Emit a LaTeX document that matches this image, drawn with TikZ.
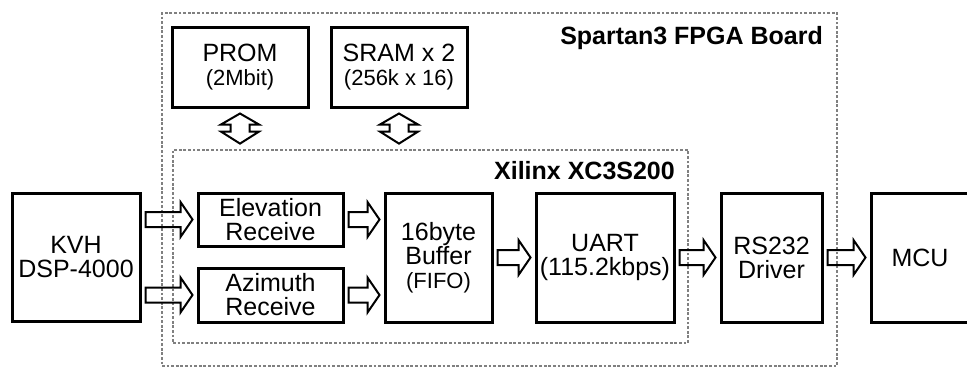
\documentclass[tikz,border=0pt]{standalone}
\usepackage{fontspec}
\setmainfont{Liberation Sans}
\usetikzlibrary{calc}

\tikzset{
  unit/.style={draw, line width=3pt, inner sep=0pt, align=center,
    font=\fontsize{25}{24}\selectfont},
  boardline/.style={draw=black!50, line width=2.8pt, dash pattern=on 2.8pt off 1.8pt, inner sep=0pt},
  boardtitle/.style={anchor=east, inner sep=0pt, font=\bfseries\fontsize{25}{25}\selectfont},
  fatarrow/.style={draw, line width=2pt, line join=miter},
}
\newcommand{\subt}[1]{{\fontsize{22}{22}\selectfont #1}}

% hollow block arrow, left to right
\newcommand{\harrow}[2]{%
  \draw[fatarrow] let \p1=#1, \p2=#2 in
    (\x1+4pt,\y1+7.5pt) -- (\x2-16pt,\y1+7.5pt) -- (\x2-16pt,\y1+17.5pt)
    -- (\x2-4pt,\y1) -- (\x2-16pt,\y1-17.5pt) -- (\x2-16pt,\y1-7.5pt)
    -- (\x1+4pt,\y1-7.5pt) -- cycle;}
% hollow double arrow, top to bottom
\newcommand{\varrow}[2]{%
  \draw[fatarrow] let \p1=#1, \p2=#2 in
    (\x1,\y1-5pt) -- (\x1+19pt,\y1-16pt) -- (\x1+9.5pt,\y1-16pt)
    -- (\x1+9.5pt,\y2+17pt) -- (\x1+19pt,\y2+17pt) -- (\x1,\y2+5pt)
    -- (\x1-19pt,\y2+17pt) -- (\x1-9.5pt,\y2+17pt) -- (\x1-9.5pt,\y1-16pt)
    -- (\x1-19pt,\y1-16pt) -- cycle;}

\begin{document}
\begin{tikzpicture}[x=1pt, y=-1pt]
  \useasboundingbox (0,0) rectangle (967,368);

  % Board and chip outlines
  \node[boardline, minimum width=675, minimum height=353] (board) at (499.5,189.5) {};
  \node[boardline, minimum width=515, minimum height=193] (chip) at (430.5,246.5) {};
  \node[boardtitle] (boardname) at (823,38.5) {Spartan3 FPGA Board};
  \node[boardtitle] (chipname) at (675,171) {Xilinx XC3S200};

  % Memories on the board
  \node[unit, minimum width=136, minimum height=80] (prom) at (240,67) {PROM\\\subt{(2Mbit)}};
  \node[unit, minimum width=136, minimum height=80] (sram) at (399,67) {SRAM x 2\\\subt{(256k x 16)}};

  % Signal chain
  \node[unit, minimum width=128, minimum height=128] (kvh) at (76,257) {KVH\\DSP-4000};
  \node[unit, minimum width=145, minimum height=53] (elev) at (270.5,219.5) {Elevation\\Receive};
  \node[unit, minimum width=145, minimum height=54] (azim) at (270.5,295) {Azimuth\\Receive};
  \node[unit, minimum width=107, minimum height=129] (buffer) at (438.5,257.5) {16byte\\Buffer\\\subt{(FIFO)}};
  \node[unit, minimum width=138, minimum height=129] (uart) at (605,257.5) {UART\\(115.2kbps)};
  \node[unit, minimum width=101, minimum height=129] (rsdrv) at (771.5,257.5) {RS232\\Driver};
  \node[unit, minimum width=98, minimum height=129] (mcu) at (920,257.5) {MCU};

  % Memory buses
  \varrow{(prom.south)}{(prom.south |- chip.north)}
  \varrow{(sram.south)}{(sram.south |- chip.north)}

  % Data flow
  \harrow{(kvh.east |- elev.west)}{(elev.west)}
  \harrow{(kvh.east |- azim.west)}{(azim.west)}
  \harrow{(elev.east)}{(buffer.west |- elev.east)}
  \harrow{(azim.east)}{(buffer.west |- azim.east)}
  \harrow{(buffer.east)}{(uart.west)}
  \harrow{(uart.east)}{(rsdrv.west)}
  \harrow{(rsdrv.east)}{(mcu.west)}
\end{tikzpicture}
\end{document}
